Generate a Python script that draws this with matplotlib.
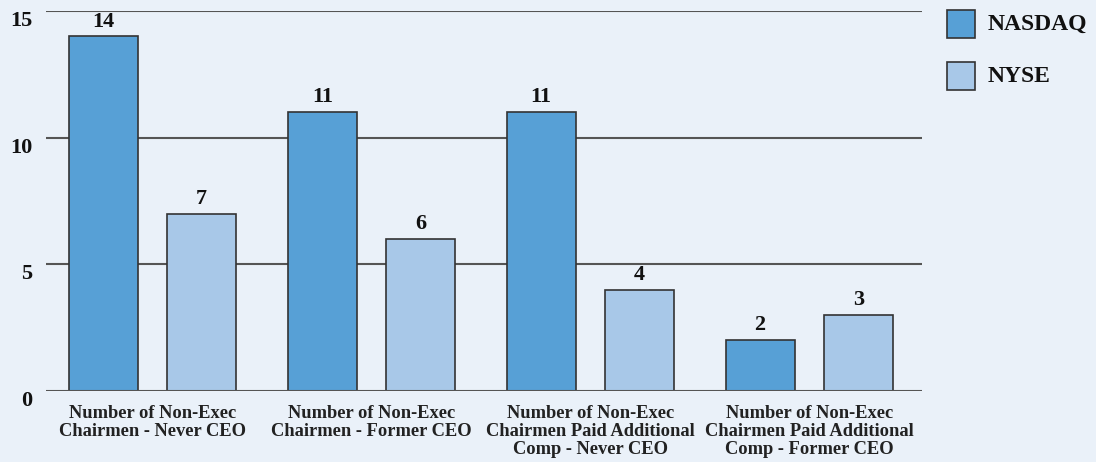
import numpy as np
import matplotlib.pyplot as plt
from matplotlib.patches import Rectangle

CATEGORIES = ["Number of Non-Exec\nChairmen - Never CEO",
              "Number of Non-Exec\nChairmen - Former CEO",
              "Number of Non-Exec\nChairmen Paid Additional\nComp - Never CEO",
              "Number of Non-Exec\nChairmen Paid Additional\nComp - Former CEO"]
NASDAQ = [14, 11, 11, 2]
NYSE = [7, 6, 4, 3]
SERIES = ["NASDAQ", "NYSE"]
COLORS = ["#57a0d6", "#a8c8e8"]
BG = "#eaf1f9"

plt.rcParams['font.family'] = ['Liberation Serif', 'DejaVu Serif']
plt.rcParams['font.weight'] = 'bold'

fig = plt.figure(figsize=(10.96, 4.62), dpi=100, facecolor=BG)
ax = fig.add_axes([0.042, 0.154, 0.799, 0.822])
ax.set_facecolor(BG)

x = np.arange(len(CATEGORIES))
w = 0.315
off = 0.224
b1 = ax.bar(x - off, NASDAQ, w, color=COLORS[0], edgecolor="#333333", linewidth=1.2, zorder=3)
b2 = ax.bar(x + off, NYSE, w, color=COLORS[1], edgecolor="#333333", linewidth=1.2, zorder=3)
for bars, vals in ((b1, NASDAQ), (b2, NYSE)):
    for r, v in zip(bars, vals):
        ax.annotate(str(v), (r.get_x() + r.get_width() / 2, v), xytext=(0, 3.5),
                    textcoords="offset points", ha="center", va="bottom",
                    fontsize=16, fontweight="bold", color="#111111")

ax.set_xlim(-0.486, 3.514)
ax.set_ylim(0, 15)
ax.set_yticks([0, 5, 10, 15])
ax.set_yticklabels(["0", "5", "10", "15"], fontsize=16, fontweight="bold", color="#111111")
ax.tick_params(axis="y", length=0, pad=10)
for t in ax.get_yticklabels():
    t.set_verticalalignment("top")
for yv in [5, 10, 15]:
    ax.axhline(yv, color="#555555", linewidth=1.5, zorder=1)
ax.axhline(0, color="#555555", linewidth=1.5, zorder=4)
ax.set_xticks(x)
ax.set_xticklabels(CATEGORIES, fontsize=13.3, fontweight="bold", color="#222222", linespacing=1.1)
ax.tick_params(axis="x", length=0, pad=10)
for s in ax.spines.values():
    s.set_visible(False)

# legend
for i, (name, c) in enumerate(zip(SERIES, COLORS)):
    y0 = 1 - 38 / 462 - i * (52 / 462)
    fig.add_artist(Rectangle((947 / 1096, y0), 28 / 1096, 28 / 462, transform=fig.transFigure,
                             facecolor=c, edgecolor="#333333", linewidth=1.2))
    fig.text(988 / 1096, y0 + 14 / 462, name, fontsize=17, fontweight="bold",
             va="center", ha="left", color="#111111")

fig.savefig("out.png", dpi=100, facecolor=BG)
